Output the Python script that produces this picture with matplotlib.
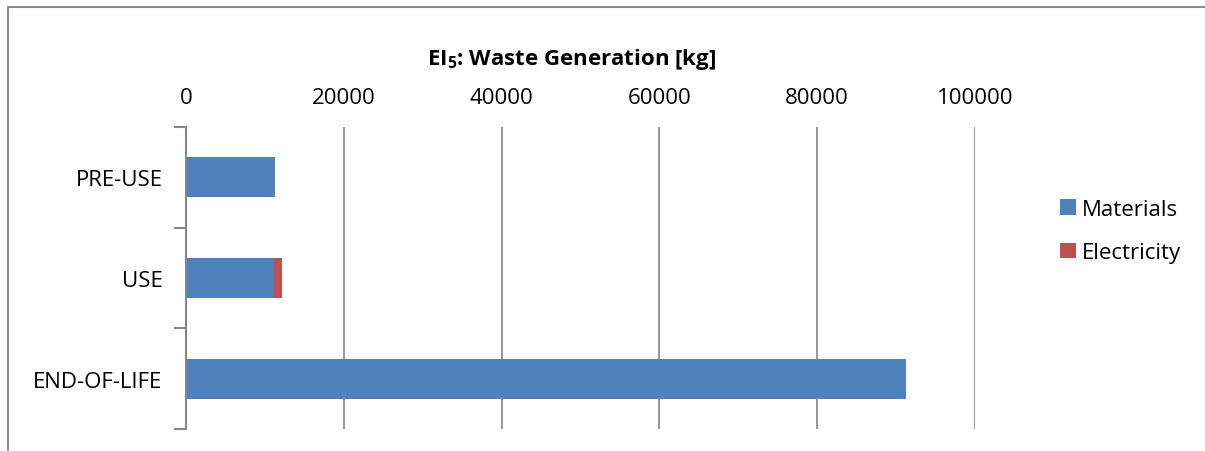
import matplotlib.pyplot as plt
from matplotlib.lines import Line2D

# chart data
categories = ["PRE-USE", "USE", "END-OF-LIFE"]
materials = [11300, 11150, 91250]
electricity = [0, 1000, 0]
x_ticks = [0, 20000, 40000, 60000, 80000, 100000]

BLUE = "#4F81BD"
RED = "#C0504D"
GRID = "#868686"

plt.rcParams["font.family"] = ["Open Sans", "DejaVu Sans"]
plt.rcParams["mathtext.fontset"] = "custom"
plt.rcParams["mathtext.rm"] = "Open Sans"
plt.rcParams["mathtext.bf"] = "Open Sans:bold"

W, H = 1205, 452
fig = plt.figure(figsize=(W / 100, H / 100), dpi=100)

# outer chart border (only top and left edges are visible in the crop)
fig.lines.append(Line2D([8 / W, 8 / W, 1.0], [0.0, 1 - 8 / H, 1 - 8 / H],
                        transform=fig.transFigure, color="#8C8C8C",
                        linewidth=1.5))

ax = fig.add_axes([186 / W, 1 - 430 / H, (975 - 186) / W, (430 - 128) / H])

y = list(range(len(categories)))
ax.barh(y, materials, height=0.4, color=BLUE, label="Materials")
ax.barh(y, electricity, left=materials, height=0.4, color=RED, label="Electricity")

ax.set_xlim(0, 100000)
ax.set_ylim(len(categories) - 0.5, -0.5)
ax.set_xticks(x_ticks)
ax.set_xticklabels([str(t) for t in x_ticks])
ax.xaxis.tick_top()
ax.tick_params(axis="x", length=0, pad=14, labelsize=16)
ax.set_yticks(y)
ax.set_yticklabels(categories)
ax.tick_params(axis="y", length=0, pad=17, labelsize=16)

# category separator ticks on the left axis
ax.set_yticks([-0.5, 0.5, 1.5, 2.5], minor=True)
ax.tick_params(axis="y", which="minor", length=9, width=1.5, color=GRID)

ax.grid(axis="x", color=GRID, linewidth=1.2)
ax.set_axisbelow(True)
for side in ["top", "right", "bottom"]:
    ax.spines[side].set_visible(False)
ax.spines["left"].set_color(GRID)
ax.spines["left"].set_linewidth(1.5)

fig.text(572 / W, 1 - 60 / H, r"EI$_{\mathbf{5}}$: Waste Generation [kg]",
         ha="center", va="center", fontsize=16, fontweight="bold")

fig.legend(loc="center left", bbox_to_anchor=(1040 / W, 1 - 232 / H),
           frameon=False, fontsize=16, handlelength=0.7, handleheight=0.7,
           handletextpad=0.3, labelspacing=1.0)

fig.savefig("out.png", dpi=100)
